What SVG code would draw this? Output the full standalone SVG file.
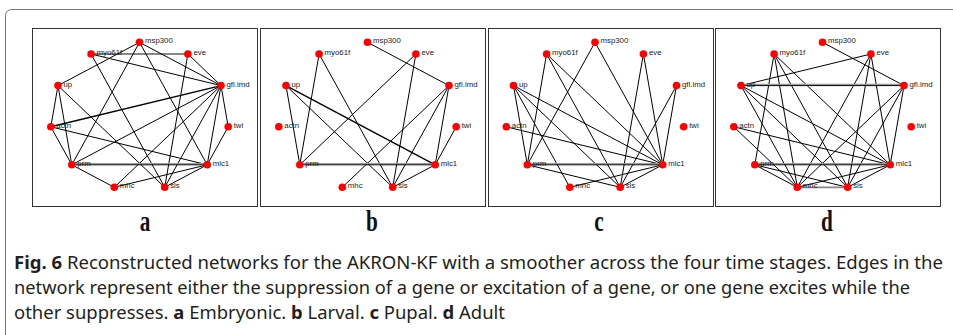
<svg xmlns="http://www.w3.org/2000/svg" width="953" height="335" viewBox="0 0 953 335">
<style>
.box{fill:#fff;stroke:#333;stroke-width:1}
.edges line{stroke:#000;stroke-width:1}
.edges line.tk{stroke-width:1.4}
.edges line.gr{stroke:#999;stroke-width:1.2}
.edges line.gg{stroke:#888;stroke-width:1.8}
.node circle{fill:#f00}
.node text{font-family:"Liberation Sans",Arial,sans-serif;font-size:7.8px;fill:#222}
.pl{font-family:"Liberation Serif","Times New Roman",serif;font-weight:bold;font-size:25px;fill:#111}
.cap{font-family:"Noto Sans","Open Sans",sans-serif;font-size:18px;fill:#231f20}
.b{font-weight:bold}
</style>
<rect x="5.5" y="9.5" width="960" height="340" rx="6" fill="none" stroke="#777" stroke-width="1"/>
<rect class="box" x="32.5" y="28.5" width="225" height="178"/>
<rect class="box" x="260.5" y="28.5" width="225" height="178"/>
<rect class="box" x="488.5" y="28.5" width="225" height="178"/>
<rect class="box" x="715.5" y="28.5" width="225" height="178"/>

<!-- Panel a -->
<g id="panel-a">
<g id="a-connectors" class="edges">
<line class="gg" x1="91.1" y1="54" x2="187.9" y2="54"/>
<line x1="91.1" y1="54" x2="221" y2="85.6"/>
<line x1="91.1" y1="54" x2="164.7" y2="187.3"/>
<line x1="139.5" y1="42.3" x2="58" y2="85.6"/>
<line x1="139.5" y1="42.3" x2="71.8" y2="164.8"/>
<line x1="139.5" y1="42.3" x2="207.2" y2="164.8"/>
<line x1="139.5" y1="42.3" x2="221" y2="85.6"/>
<line x1="187.9" y1="54" x2="221" y2="85.6"/>
<line x1="187.9" y1="54" x2="164.7" y2="187.3"/>
<line class="tk" x1="221" y1="85.6" x2="50.8" y2="126.8"/>
<line x1="221" y1="85.6" x2="71.8" y2="164.8"/>
<line x1="221" y1="85.6" x2="114.3" y2="187.3"/>
<line x1="221" y1="85.6" x2="164.7" y2="187.3"/>
<line x1="221" y1="85.6" x2="207.2" y2="164.8"/>
<line x1="221" y1="85.6" x2="228.2" y2="126.8"/>
<line x1="228.2" y1="126.8" x2="207.2" y2="164.8"/>
<line x1="58" y1="85.6" x2="50.8" y2="126.8"/>
<line x1="58" y1="85.6" x2="71.8" y2="164.8"/>
<line x1="58" y1="85.6" x2="164.7" y2="187.3"/>
<line x1="50.8" y1="126.8" x2="71.8" y2="164.8"/>
<line x1="50.8" y1="126.8" x2="207.2" y2="164.8"/>
<line class="gr" x1="71.8" y1="163.6" x2="207.2" y2="163.6"/>
<line x1="71.8" y1="164.8" x2="207.2" y2="164.8"/>
<line x1="71.8" y1="164.8" x2="114.3" y2="187.3"/>
<line x1="114.3" y1="187.3" x2="207.2" y2="164.8"/>
<line x1="164.7" y1="187.3" x2="207.2" y2="164.8"/>
</g>
<g id="a-msp300" class="node"><circle cx="139.5" cy="42.3" r="3.8"/><text x="145" y="43.3">msp300</text></g>
<g id="a-eve" class="node"><circle cx="187.9" cy="54" r="3.8"/><text x="193.4" y="55">eve</text></g>
<g id="a-gfl.lmd" class="node"><circle cx="221" cy="85.6" r="3.8"/><text x="226.5" y="86.6">gfl.lmd</text></g>
<g id="a-twi" class="node"><circle cx="228.2" cy="126.8" r="3.8"/><text x="233.7" y="127.8">twi</text></g>
<g id="a-mlc1" class="node"><circle cx="207.2" cy="164.8" r="3.8"/><text x="212.7" y="165.8">mlc1</text></g>
<g id="a-sls" class="node"><circle cx="164.7" cy="187.3" r="3.8"/><text x="170.2" y="188.3">sls</text></g>
<g id="a-mhc" class="node"><circle cx="114.3" cy="187.3" r="3.8"/><text x="119.8" y="188.3">mhc</text></g>
<g id="a-prm" class="node"><circle cx="71.8" cy="164.8" r="3.8"/><text x="77.3" y="165.8">prm</text></g>
<g id="a-actn" class="node"><circle cx="50.8" cy="126.8" r="3.8"/><text x="56.3" y="127.8">actn</text></g>
<g id="a-up" class="node"><circle cx="58" cy="85.6" r="3.8"/><text x="63.5" y="86.6">up</text></g>
<g id="a-myo61f" class="node"><circle cx="91.1" cy="54" r="3.8"/><text x="96.6" y="55">myo61f</text></g>
</g>

<!-- Panel b -->
<g id="panel-b" transform="translate(228,0)">
<g id="b-connectors" class="edges">
<line x1="139.5" y1="42.3" x2="221" y2="85.6"/>
<line x1="91.1" y1="54" x2="71.8" y2="164.8"/>
<line x1="91.1" y1="54" x2="164.7" y2="187.3"/>
<line x1="187.9" y1="54" x2="71.8" y2="164.8"/>
<line x1="187.9" y1="54" x2="164.7" y2="187.3"/>
<line x1="58" y1="85.6" x2="71.8" y2="164.8"/>
<line class="tk" x1="58" y1="85.6" x2="207.2" y2="164.8"/>
<line x1="58" y1="85.6" x2="164.7" y2="187.3"/>
<line x1="221" y1="85.6" x2="114.3" y2="187.3"/>
<line x1="221" y1="85.6" x2="164.7" y2="187.3"/>
<line x1="221" y1="85.6" x2="207.2" y2="164.8"/>
<line x1="228.2" y1="126.8" x2="207.2" y2="164.8"/>
<line class="gr" x1="71.8" y1="163.6" x2="207.2" y2="163.6"/>
<line x1="71.8" y1="164.8" x2="207.2" y2="164.8"/>
<line x1="164.7" y1="187.3" x2="207.2" y2="164.8"/>
</g>
<g id="b-msp300" class="node"><circle cx="139.5" cy="42.3" r="3.8"/><text x="145" y="43.3">msp300</text></g>
<g id="b-eve" class="node"><circle cx="187.9" cy="54" r="3.8"/><text x="193.4" y="55">eve</text></g>
<g id="b-gfl.lmd" class="node"><circle cx="221" cy="85.6" r="3.8"/><text x="226.5" y="86.6">gfl.lmd</text></g>
<g id="b-twi" class="node"><circle cx="228.2" cy="126.8" r="3.8"/><text x="233.7" y="127.8">twi</text></g>
<g id="b-mlc1" class="node"><circle cx="207.2" cy="164.8" r="3.8"/><text x="212.7" y="165.8">mlc1</text></g>
<g id="b-sls" class="node"><circle cx="164.7" cy="187.3" r="3.8"/><text x="170.2" y="188.3">sls</text></g>
<g id="b-mhc" class="node"><circle cx="114.3" cy="187.3" r="3.8"/><text x="119.8" y="188.3">mhc</text></g>
<g id="b-prm" class="node"><circle cx="71.8" cy="164.8" r="3.8"/><text x="77.3" y="165.8">prm</text></g>
<g id="b-actn" class="node"><circle cx="50.8" cy="126.8" r="3.8"/><text x="56.3" y="127.8">actn</text></g>
<g id="b-up" class="node"><circle cx="58" cy="85.6" r="3.8"/><text x="63.5" y="86.6">up</text></g>
<g id="b-myo61f" class="node"><circle cx="91.1" cy="54" r="3.8"/><text x="96.6" y="55">myo61f</text></g>
</g>

<!-- Panel c -->
<g id="panel-c" transform="translate(455.5,0)">
<g id="c-connectors" class="edges">
<line x1="139.5" y1="42.3" x2="71.8" y2="164.8"/>
<line x1="139.5" y1="42.3" x2="207.2" y2="164.8"/>
<line x1="91.1" y1="54" x2="71.8" y2="164.8"/>
<line x1="91.1" y1="54" x2="164.7" y2="187.3"/>
<line x1="91.1" y1="54" x2="207.2" y2="164.8"/>
<line x1="187.9" y1="54" x2="164.7" y2="187.3"/>
<line x1="187.9" y1="54" x2="207.2" y2="164.8"/>
<line x1="221" y1="85.6" x2="164.7" y2="187.3"/>
<line x1="221" y1="85.6" x2="207.2" y2="164.8"/>
<line x1="58" y1="85.6" x2="71.8" y2="164.8"/>
<line x1="58" y1="85.6" x2="114.3" y2="187.3"/>
<line x1="58" y1="85.6" x2="164.7" y2="187.3"/>
<line x1="58" y1="85.6" x2="207.2" y2="164.8"/>
<line x1="50.8" y1="126.8" x2="207.2" y2="164.8"/>
<line class="gr" x1="71.8" y1="163.6" x2="207.2" y2="163.6"/>
<line x1="71.8" y1="164.8" x2="207.2" y2="164.8"/>
<line x1="71.8" y1="164.8" x2="164.7" y2="187.3"/>
<line x1="114.3" y1="187.3" x2="207.2" y2="164.8"/>
<line x1="164.7" y1="187.3" x2="207.2" y2="164.8"/>
</g>
<g id="c-msp300" class="node"><circle cx="139.5" cy="42.3" r="3.8"/><text x="145" y="43.3">msp300</text></g>
<g id="c-eve" class="node"><circle cx="187.9" cy="54" r="3.8"/><text x="193.4" y="55">eve</text></g>
<g id="c-gfl.lmd" class="node"><circle cx="221" cy="85.6" r="3.8"/><text x="226.5" y="86.6">gfl.lmd</text></g>
<g id="c-twi" class="node"><circle cx="228.2" cy="126.8" r="3.8"/><text x="233.7" y="127.8">twi</text></g>
<g id="c-mlc1" class="node"><circle cx="207.2" cy="164.8" r="3.8"/><text x="212.7" y="165.8">mlc1</text></g>
<g id="c-sls" class="node"><circle cx="164.7" cy="187.3" r="3.8"/><text x="170.2" y="188.3">sls</text></g>
<g id="c-mhc" class="node"><circle cx="114.3" cy="187.3" r="3.8"/><text x="119.8" y="188.3">mhc</text></g>
<g id="c-prm" class="node"><circle cx="71.8" cy="164.8" r="3.8"/><text x="77.3" y="165.8">prm</text></g>
<g id="c-actn" class="node"><circle cx="50.8" cy="126.8" r="3.8"/><text x="56.3" y="127.8">actn</text></g>
<g id="c-up" class="node"><circle cx="58" cy="85.6" r="3.8"/><text x="63.5" y="86.6">up</text></g>
<g id="c-myo61f" class="node"><circle cx="91.1" cy="54" r="3.8"/><text x="96.6" y="55">myo61f</text></g>
</g>

<!-- Panel d -->
<g id="panel-d" transform="translate(683,0)">
<g id="d-connectors" class="edges">
<line x1="139.5" y1="42.3" x2="221" y2="85.6"/>
<line x1="91.1" y1="54" x2="71.8" y2="164.8"/>
<line x1="91.1" y1="54" x2="114.3" y2="187.3"/>
<line x1="91.1" y1="54" x2="164.7" y2="187.3"/>
<line x1="91.1" y1="54" x2="207.2" y2="164.8"/>
<line x1="187.9" y1="54" x2="58" y2="85.6"/>
<line x1="187.9" y1="54" x2="114.3" y2="187.3"/>
<line x1="187.9" y1="54" x2="164.7" y2="187.3"/>
<line x1="187.9" y1="54" x2="207.2" y2="164.8"/>
<line class="gr" x1="58" y1="84.4" x2="221" y2="84.4"/>
<line x1="58" y1="85.6" x2="221" y2="85.6"/>
<line x1="221" y1="85.6" x2="114.3" y2="187.3"/>
<line x1="221" y1="85.6" x2="164.7" y2="187.3"/>
<line x1="221" y1="85.6" x2="207.2" y2="164.8"/>
<line x1="58" y1="85.6" x2="114.3" y2="187.3"/>
<line x1="58" y1="85.6" x2="164.7" y2="187.3"/>
<line x1="58" y1="85.6" x2="207.2" y2="164.8"/>
<line x1="50.8" y1="126.8" x2="114.3" y2="187.3"/>
<line x1="50.8" y1="126.8" x2="207.2" y2="164.8"/>
<line class="gr" x1="71.8" y1="163.6" x2="207.2" y2="163.6"/>
<line x1="71.8" y1="164.8" x2="207.2" y2="164.8"/>
<line x1="71.8" y1="164.8" x2="114.3" y2="187.3"/>
<line x1="71.8" y1="164.8" x2="164.7" y2="187.3"/>
<line class="gg" x1="114.3" y1="187.3" x2="164.7" y2="187.3"/>
<line x1="114.3" y1="187.3" x2="207.2" y2="164.8"/>
<line x1="164.7" y1="187.3" x2="207.2" y2="164.8"/>
</g>
<g id="d-msp300" class="node"><circle cx="139.5" cy="42.3" r="3.8"/><text x="145" y="43.3">msp300</text></g>
<g id="d-eve" class="node"><circle cx="187.9" cy="54" r="3.8"/><text x="193.4" y="55">eve</text></g>
<g id="d-gfl.lmd" class="node"><circle cx="221" cy="85.6" r="3.8"/><text x="226.5" y="86.6">gfl.lmd</text></g>
<g id="d-twi" class="node"><circle cx="228.2" cy="126.8" r="3.8"/><text x="233.7" y="127.8">twi</text></g>
<g id="d-mlc1" class="node"><circle cx="207.2" cy="164.8" r="3.8"/><text x="212.7" y="165.8">mlc1</text></g>
<g id="d-sls" class="node"><circle cx="164.7" cy="187.3" r="3.8"/><text x="170.2" y="188.3">sls</text></g>
<g id="d-mhc" class="node"><circle cx="114.3" cy="187.3" r="3.8"/><text x="119.8" y="188.3">mhc</text></g>
<g id="d-prm" class="node"><circle cx="71.8" cy="164.8" r="3.8"/><text x="77.3" y="165.8">prm</text></g>
<g id="d-actn" class="node"><circle cx="50.8" cy="126.8" r="3.8"/><text x="56.3" y="127.8">actn</text></g>
<g id="d-up" class="node"><circle cx="58" cy="85.6" r="3.8"/><text x="63.5" y="86.6">up</text></g>
<g id="d-myo61f" class="node"><circle cx="91.1" cy="54" r="3.8"/><text x="96.6" y="55">myo61f</text></g>
</g>

<text class="pl" transform="translate(145,231) scale(0.85,1.2)" text-anchor="middle">a</text>
<text class="pl" transform="translate(372,231) scale(0.85,1.2)" text-anchor="middle">b</text>
<text class="pl" transform="translate(599,231) scale(0.85,1.2)" text-anchor="middle">c</text>
<text class="pl" transform="translate(827,231) scale(0.85,1.2)" text-anchor="middle">d</text>

<text class="cap" x="14" y="269" textLength="929" lengthAdjust="spacingAndGlyphs"><tspan class="b">Fig. 6</tspan>  Reconstructed networks for the AKRON-KF with a smoother across the four time stages. Edges in the</text>
<text class="cap" x="14" y="294" textLength="896" lengthAdjust="spacingAndGlyphs">network represent either the suppression of a gene or excitation of a gene, or one gene excites while the</text>
<text class="cap" x="14" y="319" textLength="491" lengthAdjust="spacingAndGlyphs">other suppresses. <tspan class="b">a</tspan> Embryonic. <tspan class="b">b</tspan> Larval. <tspan class="b">c</tspan> Pupal. <tspan class="b">d</tspan> Adult</text>
</svg>
